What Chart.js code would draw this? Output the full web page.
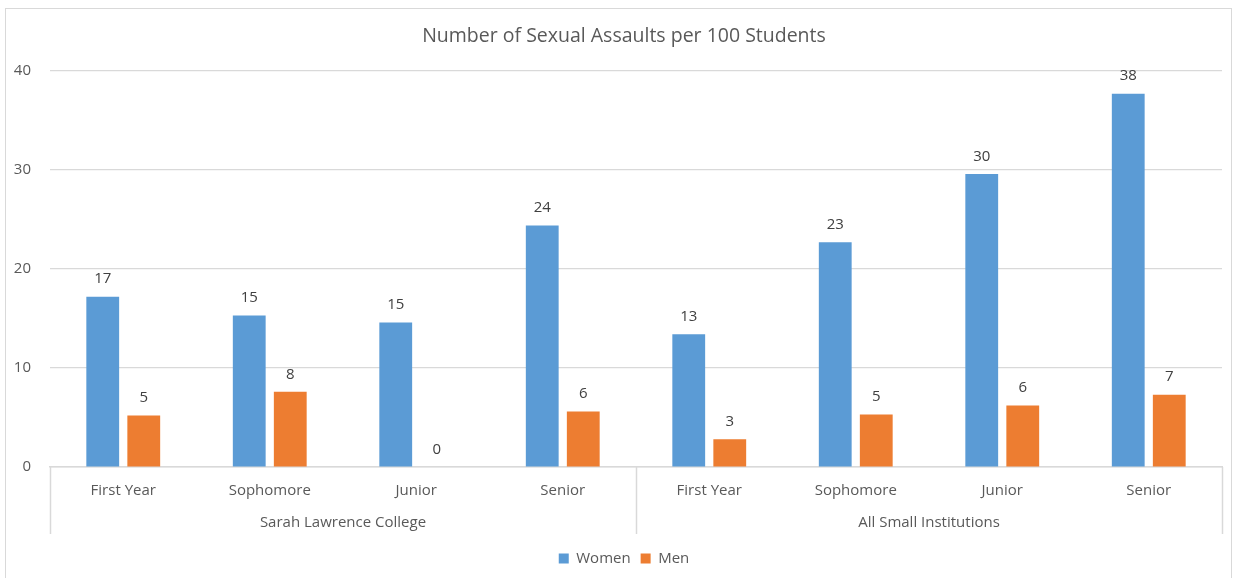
<!DOCTYPE html>
<html>
<head>
<meta charset="utf-8">
<script src="https://cdn.jsdelivr.net/npm/chart.js@4"></script>
<style>
  html, body { margin: 0; padding: 0; background: #fff; }
  #wrap { width: 1234px; height: 578px; position: relative; }
</style>
</head>
<body>
<div id="wrap"><canvas id="chart" width="1234" height="578"></canvas></div>
<script>
// data
const categories = ["First Year", "Sophomore", "Junior", "Senior", "First Year", "Sophomore", "Junior", "Senior"];
const groups = ["Sarah Lawrence College", "All Small Institutions"];
const women = [17.2, 15.3, 14.6, 24.4, 13.4, 22.7, 29.6, 37.7];
const men = [5.2, 7.6, 0, 5.6, 2.8, 5.3, 6.2, 7.3];
const yTicks = [0, 10, 20, 30, 40];

const fontFam = "'Open Sans', 'Liberation Sans', sans-serif";
const gridCol = "#d9d9d9";
const textCol = "#595959";

// labels above bars, group row under the axis, outer frame
const extras = {
  id: "extras",
  afterLayout(chart) {
    // title and legend sit a bit right of canvas centre in the original
    [chart.titleBlock, chart.legend].forEach(b => {
      if (b) { b.left += 13; b.right += 13; }
    });
  },
  beforeDraw(chart) {
    const c = chart.ctx;
    c.save();
    c.strokeStyle = gridCol;
    c.lineWidth = 1;
    c.strokeRect(5.5, 8.5, 1226, 580);
    c.restore();
  },
  afterDatasetsDraw(chart) {
    const c = chart.ctx;
    c.save();
    c.font = "15px " + fontFam;
    c.fillStyle = "#404040";
    c.textAlign = "center";
    c.textBaseline = "bottom";
    chart.data.datasets.forEach((ds, i) => {
      chart.getDatasetMeta(i).data.forEach((bar, j) => {
        c.fillText(Math.round(ds.data[j]), bar.x, bar.y - 10);
      });
    });
    c.restore();
  },
  afterDraw(chart) {
    const c = chart.ctx;
    const x = chart.scales.x;
    const a = chart.chartArea;
    const mid = (x.getPixelForTick(3) + x.getPixelForTick(4)) / 2;
    const seps = [a.left, mid, a.right];
    c.save();
    c.strokeStyle = gridCol;
    c.lineWidth = 1.5;
    seps.forEach(p => {
      c.beginPath();
      c.moveTo(Math.round(p) + 0.5, a.bottom);
      c.lineTo(Math.round(p) + 0.5, a.bottom + 67);
      c.stroke();
    });
    c.font = "15px " + fontFam;
    c.fillStyle = textCol;
    c.textAlign = "center";
    c.textBaseline = "middle";
    c.fillText(groups[0], (a.left + mid) / 2, a.bottom + 56);
    c.fillText(groups[1], (mid + a.right) / 2, a.bottom + 56);
    c.restore();
  }
};

new Chart(document.getElementById("chart"), {
  type: "bar",
  data: {
    labels: categories,
    datasets: [
      { label: "Women", data: women, backgroundColor: "#5B9BD5",
        categoryPercentage: 0.56, barPercentage: 0.8 },
      { label: "Men", data: men, backgroundColor: "#ED7D31",
        categoryPercentage: 0.56, barPercentage: 0.8 }
    ]
  },
  options: {
    responsive: false,
    animation: false,
    layout: { padding: { left: 0, right: 12, top: 0, bottom: 2 } },
    scales: {
      x: {
        grid: { display: false },
        border: { color: gridCol, width: 1.5 },
        ticks: { color: textCol, font: { family: fontFam, size: 15 }, padding: 7, maxRotation: 0 },
        afterFit(s) { s.height = 74; }
      },
      y: {
        min: 0,
        max: 40,
        afterBuildTicks(s) { s.ticks = yTicks.map(v => ({ value: v })); },
        grid: { color: gridCol, lineWidth: 1.2, drawTicks: false },
        border: { display: false },
        ticks: { color: textCol, font: { family: fontFam, size: 15 }, padding: 19 },
        afterFit(s) { s.width = 50; }
      }
    },
    plugins: {
      title: {
        display: true,
        text: "Number of Sexual Assaults per 100 Students",
        color: textCol,
        font: { family: fontFam, size: 19.5, weight: "normal" },
        padding: { top: 25, bottom: 22.5 }
      },
      legend: {
        position: "bottom",
        labels: {
          color: textCol,
          font: { family: fontFam, size: 15 },
          usePointStyle: true,
          pointStyle: "rect",
          boxWidth: 10,
          boxHeight: 10,
          padding: 10
        }
      },
      tooltip: { enabled: false }
    }
  },
  plugins: [extras]
});
</script>
</body>
</html>
